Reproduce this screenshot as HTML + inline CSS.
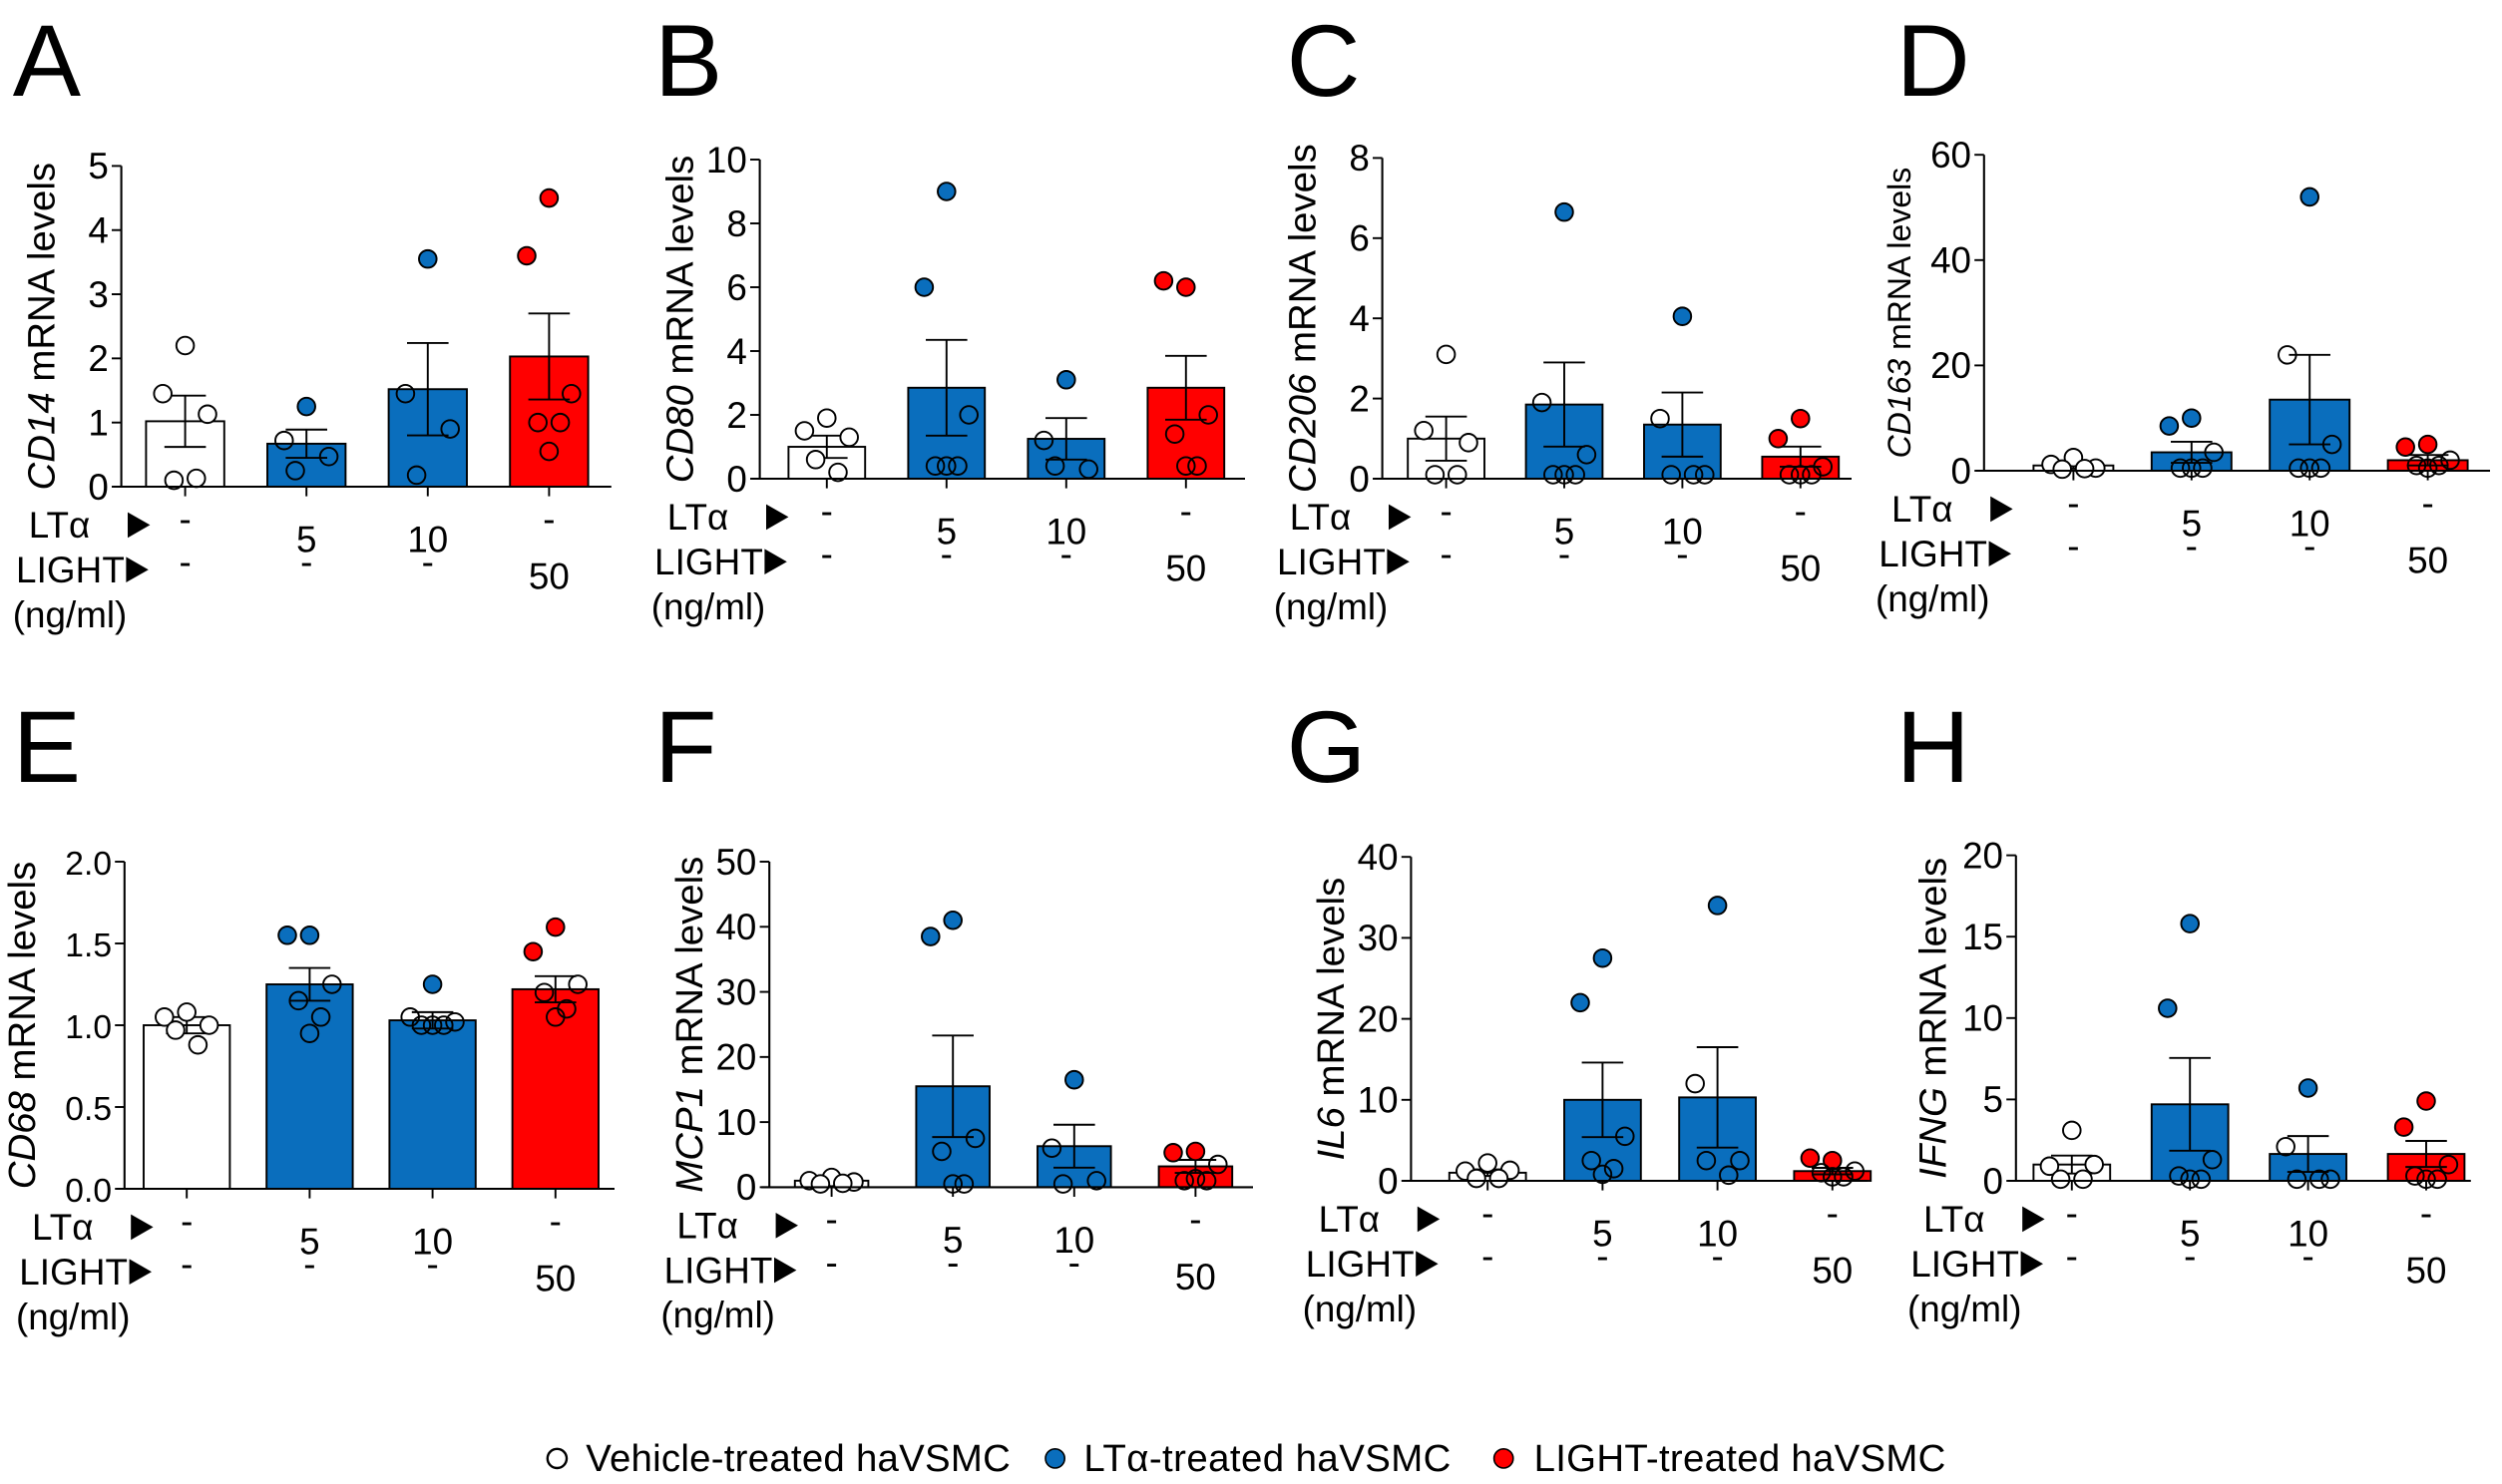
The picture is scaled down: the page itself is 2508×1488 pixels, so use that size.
<!DOCTYPE html>
<html><head><meta charset="utf-8">
<style>
html,body{margin:0;padding:0;background:#fff;}
svg{display:block;font-family:"Liberation Sans",Arial,sans-serif;}
</style></head>
<body>
<svg id="fig" width="2508" height="1488" viewBox="0 0 1567.5 930" xmlns="http://www.w3.org/2000/svg">
<g id="panels"></g>
<g>
 <circle cx="349" cy="914" r="6" fill="#fff" stroke="#000" stroke-width="1.5"/>
 <text x="367" y="922" font-size="24" textLength="266">Vehicle-treated haVSMC</text>
 <circle cx="661" cy="914" r="6" fill="#0a6ebd" stroke="#000" stroke-width="1"/>
 <text x="679" y="922" font-size="24" textLength="230">LTα-treated haVSMC</text>
 <circle cx="942" cy="914" r="6" fill="#ff0000" stroke="#000" stroke-width="1"/>
 <text x="961" y="922" font-size="24" textLength="258">LIGHT-treated haVSMC</text>
</g>
</svg>
<script>
// ---- data ----
const panelLetters = ["A","B","C","D","E","F","G","H"];
const genes = ["CD14","CD80","CD206","CD163","CD68","MCP1","IL6","IFNG"];
const yMax = [5,10,8,60,2,50,40,20];
const yStep = [1,2,2,20,0.5,10,10,5];
const barMeans = [
 [1.02,0.67,1.52,2.03],
 [1.0,2.85,1.25,2.85],
 [1.0,1.85,1.35,0.55],
 [1.0,3.5,13.5,2.0],
 [1.0,1.25,1.03,1.22],
 [1.0,15.5,6.3,3.2],
 [1.0,10.0,10.3,1.2],
 [1.0,4.7,1.65,1.65]
];
const barSem = [
 [0.4,0.22,0.72,0.67],
 [0.35,1.5,0.65,1.0],
 [0.55,1.05,0.8,0.25],
 [0.6,2.0,8.5,1.0],
 [0.05,0.1,0.05,0.08],
 [0.4,7.8,3.3,1.0],
 [0.4,4.6,6.2,0.4],
 [0.55,2.85,1.1,0.8]
];
const pointsVehicle = [[2.2,1.45,1.13,0.1,0.13],[1.9,1.5,1.3,0.6,0.2],[3.1,1.2,0.9,0.1,0.1],[2.5,1.2,0.5,0.3,0.4],[1.08,1.05,1.0,0.97,0.88],[1.5,1.0,0.8,0.5,0.6],[2.2,1.2,1.3,0.3,0.3],[3.1,0.9,1.0,0.1,0.1]];
const pointsLTa5 = [[1.25,0.72,0.47,0.25],[9.0,6.0,2.0,0.4,0.4,0.4],[6.65,1.9,0.6,0.1,0.1,0.1],[10,8.5,3.5,0.5,0.5,0.5],[1.55,1.55,1.25,1.15,1.05,0.95],[41,38.5,7.5,5.5,0.5,0.5],[27.5,22,5.5,2.5,1.5,0.8],[15.8,10.6,1.3,0.3,0.1,0.1]];
const pointsLTa10 = [[3.55,1.45,0.9,0.18],[3.1,1.2,0.3,0.4],[4.05,1.5,0.1,0.1,0.1],[52,22,5,0.5,0.5,0.5],[1.25,1.05,1.02,1.0,1.0,1.0],[16.5,6,1,0.5],[34,12,2.5,2.5,0.7],[5.7,2.1,0.1,0.1,0.1]];
const pointsLIGHT = [[4.5,3.6,1.45,1.0,1.0,0.55],[6.0,6.2,2.0,1.4,0.4,0.4],[1.5,1.0,0.3,0.1,0.1,0.1],[5,4.5,2,1,1,0.5],[1.6,1.45,1.25,1.2,1.1,1.05],[5.5,5.3,3.5,1,1,1.3],[2.5,2.8,1.2,1.0,0.5,0.5],[4.9,3.3,1.0,0.3,0.1,0.1]];
const ltaLabels = ["-","5","10","-"];
const lightLabels = ["-","-","-","50"];
// ---- layout (preview units) ----
const layout = [
 {ax:76, top:104, zero:305, right:383, cx0:116, step:76, bw:49, lx:8, ly:60, yl:42},
 {ax:476,top:100, zero:300, right:780, cx0:518, step:75, bw:48, lx:410,ly:60, yl:42},
 {ax:866,top:99,  zero:300, right:1160,cx0:906, step:74, bw:48, lx:806,ly:60, yl:42},
 {ax:1243,top:97, zero:295, right:1560,cx0:1299,step:74, bw:50, lx:1188,ly:60, yl:46},
 {ax:78, top:540, zero:745, right:385, cx0:117, step:77, bw:54, lx:8, ly:490, yl:56},
 {ax:482,top:540, zero:744, right:785, cx0:521, step:76, bw:46, lx:410,ly:490, yl:42},
 {ax:884,top:537, zero:740, right:1170,cx0:932, step:72, bw:48, lx:806,ly:490, yl:42},
 {ax:1263,top:536,zero:740, right:1548,cx0:1298,step:74, bw:48, lx:1188,ly:490, yl:44}
];
const fills = ["#ffffff","#0a6ebd","#0a6ebd","#ff0000"];
const jitter = [0,-14,14,-7,7,0];
const NS = "http://www.w3.org/2000/svg";
const root = document.getElementById("panels");
function mk(tag, attrs, parent){const e=document.createElementNS(NS,tag);for(const k in attrs)e.setAttribute(k,attrs[k]);parent.appendChild(e);return e;}
for(let p=0;p<8;p++){
 const L=layout[p];
 const g=mk("g",{},root);
 
 
 const y=v=>L.zero-(v/yMax[p])*(L.zero-L.top);
 const x=i=>L.cx0+i*L.step;
 const letter=mk("text",{x:L.lx,y:L.ly,"font-size":64},g);letter.textContent=panelLetters[p];
 
 
 const fs = p===3?20:24;
 const yl=mk("text",{transform:`translate(${L.ax-L.yl},${(L.top+L.zero)/2}) rotate(-90)`,"text-anchor":"middle","font-size":fs},g);
 
 
 const it=mk("tspan",{"font-style":"italic"},yl);it.textContent=genes[p];
 const rest=mk("tspan",{},yl);rest.textContent="  mRNA levels";
 mk("line",{x1:L.ax,y1:L.top,x2:L.ax,y2:L.zero,stroke:"#000","stroke-width":1.3},g);
 for(let i=0;i<4;i++){
  const pts=[pointsVehicle,pointsLTa5,pointsLTa10,pointsLIGHT][i][p];
  const b=mk("rect",{x:x(i)-L.bw/2,y:y(barMeans[p][i]),width:L.bw,height:L.zero-y(barMeans[p][i]),fill:fills[i],stroke:"#000","stroke-width":1.2},g);
  
  
  const hi=y(barMeans[p][i]+barSem[p][i]), lo=y(Math.max(0,barMeans[p][i]-barSem[p][i]));
  mk("line",{x1:x(i),y1:hi,x2:x(i),y2:lo,stroke:"#000","stroke-width":1.2},g);
  mk("line",{x1:x(i)-13,y1:hi,x2:x(i)+13,y2:hi,stroke:"#000","stroke-width":1.2},g);
  mk("line",{x1:x(i)-13,y1:lo,x2:x(i)+13,y2:lo,stroke:"#000","stroke-width":1.2},g);
  pts.forEach((v,k)=>{
   const c=mk("circle",{cx:x(i)+jitter[k%6],cy:y(v),r:5.5,fill:i===0?"#fff":"none",stroke:"#000","stroke-width":1.2},g);
   if(i>0 && v>barMeans[p][i]+barSem[p][i]) c.setAttribute("fill",fills[i]);
   
   
  });
  mk("line",{x1:x(i),y1:L.zero,x2:x(i),y2:L.zero+6,stroke:"#000","stroke-width":1.2},g);
  const t1=mk("text",{x:x(i),y:L.zero+41,"text-anchor":"middle","font-size":23},g);t1.textContent=ltaLabels[i];
  if(ltaLabels[i]==="-") t1.setAttribute("y",L.zero+28);
  const t2=mk("text",{x:x(i),y:L.zero+64,"text-anchor":"middle","font-size":23},g);t2.textContent=lightLabels[i];
  if(lightLabels[i]==="-") t2.setAttribute("y",L.zero+55);
 }
 mk("line",{x1:L.ax-5,y1:L.zero,x2:L.right,y2:L.zero,stroke:"#000","stroke-width":1.3},g);
 for(let v=0; v<=yMax[p]+1e-9; v+=yStep[p]){
  mk("line",{x1:L.ax-6,y1:y(v),x2:L.ax,y2:y(v),stroke:"#000","stroke-width":1.2},g);
  const t=mk("text",{x:L.ax-8,y:y(v)+8,"text-anchor":"end","font-size":p===4?21:23},g);
  t.textContent = p===4 ? v.toFixed(1) : String(Math.round(v));
  
  
 }
 const a=mk("text",{x:L.ax-58,y:L.zero+32,"font-size":23},g);a.textContent="LTα";
 mk("path",{d:`M${L.ax+4},${L.zero+16} l14,8 l-14,8 z`,fill:"#000"},g);
 const b2=mk("text",{x:L.ax-66,y:L.zero+60,"font-size":23,textLength:68},g);b2.textContent="LIGHT";
 mk("path",{d:`M${L.ax+3},${L.zero+44} l14,8 l-14,8 z`,fill:"#000"},g);
 const c2=mk("text",{x:L.ax-68,y:L.zero+88,"font-size":23},g);c2.textContent="(ng/ml)";
}
</script>
</body></html>
